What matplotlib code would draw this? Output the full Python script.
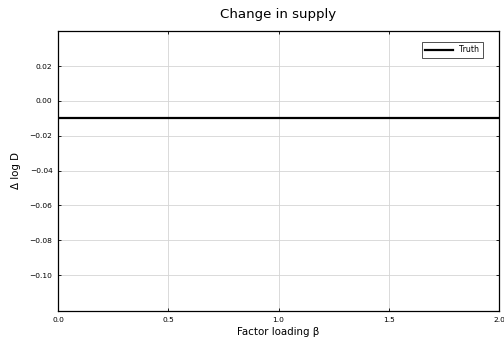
import numpy as np
import matplotlib.pyplot as plt

plt.rcParams['font.family'] = ['DejaVu Sans']

beta = [0.0, 2.0]
truth = [-0.01, -0.01]

xticks = [0.0, 0.5, 1.0, 1.5, 2.0]
yticks = [0.02, 0.00, -0.02, -0.04, -0.06, -0.08, -0.10]

fig = plt.figure(figsize=(5.04, 3.37), dpi=100)
ax = fig.add_axes([0.1151, 0.0772, 0.875, 0.831])

ax.plot(beta, truth, color='black', linewidth=1.6, label='Truth')

ax.set_xlim(0, 2)
ax.set_ylim(-0.1206, 0.0402)
ax.set_xticks(xticks)
ax.set_xticklabels(['%.1f' % v for v in xticks])
ax.set_yticks(yticks)
ax.set_yticklabels([('%.2f' % v).replace('-', '\u2212') for v in yticks])
ax.tick_params(labelsize=5.4, direction='in', length=2.5, width=0.6,
               top=True, right=True, pad=4, colors='black')
ax.grid(True, color='#d4d4d4', linewidth=0.6)
for s in ax.spines.values():
    s.set_linewidth(0.9)

ax.set_title('Change in supply', fontsize=9.6, pad=9)
ax.set_xlabel('Factor loading \u03b2', fontsize=7.4, labelpad=3)
ax.set_ylabel('\u0394 log D', fontsize=7.4, labelpad=6)

leg = ax.legend(loc='upper right', fontsize=5.6, fancybox=False, edgecolor='black',
                handlelength=3.6, borderpad=0.45, handletextpad=0.8,
                bbox_to_anchor=(0.972, 0.975))
leg.get_frame().set_linewidth(0.6)

fig.savefig('out.png', dpi=100)
